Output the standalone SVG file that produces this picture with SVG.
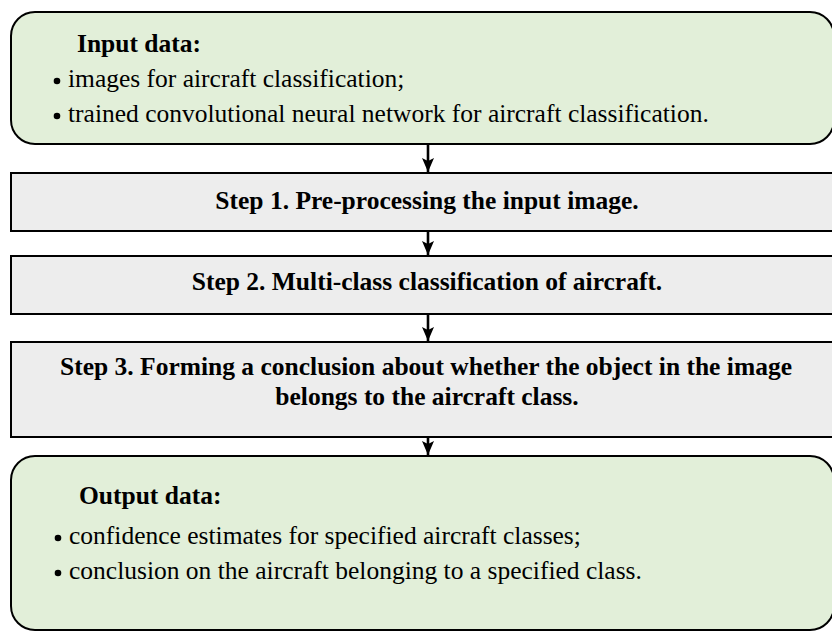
<svg xmlns="http://www.w3.org/2000/svg" width="832" height="631" viewBox="0 0 832 631">
  <style>
    .term { fill: #e2efd9; stroke: #000; stroke-width: 2; }
    .step { fill: #ededed; stroke: #000; stroke-width: 2; }
    .t { font-size: 25.5px; fill: #000; }
    .b { font-weight: bold; }
    .c { text-anchor: middle; }
    .link { stroke: #000; stroke-width: 2.6; fill: none; }
  </style>
  <defs>
    <marker id="arrow" markerWidth="14" markerHeight="12" refX="14" refY="6" orient="auto" markerUnits="userSpaceOnUse" viewBox="0 0 14 12">
      <path d="M0,0 L14,6 L0,12 L3,6 Z" fill="#000"/>
    </marker>
  </defs>

  <g id="input" font-family="'Liberation Serif', 'DejaVu Serif', serif">
    <rect class="term" x="11" y="12" width="823" height="132" rx="24" ry="24"/>
    <text class="t b" x="77" y="52">Input data:</text>
    <circle cx="57" cy="81" r="3.3"/>
    <text class="t" x="68" y="87">images for aircraft classification;</text>
    <circle cx="57" cy="116" r="3.3"/>
    <text class="t" x="68" y="122">trained convolutional neural network for aircraft classification.</text>
  </g>

  <g id="step1" font-family="'Liberation Serif', 'DejaVu Serif', serif">
    <rect class="step" x="11" y="173" width="823" height="58"/>
    <text class="t b c" x="427" y="209">Step 1. Pre-processing the input image.</text>
  </g>

  <g id="step2" font-family="'Liberation Serif', 'DejaVu Serif', serif">
    <rect class="step" x="11" y="256" width="823" height="58"/>
    <text class="t b c" x="427" y="290">Step 2. Multi-class classification of aircraft.</text>
  </g>

  <g id="step3" font-family="'Liberation Serif', 'DejaVu Serif', serif">
    <rect class="step" x="11" y="342" width="823" height="95"/>
    <text class="t b c" x="426" y="375">Step 3. Forming a conclusion about whether the object in the image</text>
    <text class="t b c" x="427" y="405">belongs to the aircraft class.</text>
  </g>

  <g id="output" font-family="'Liberation Serif', 'DejaVu Serif', serif">
    <rect class="term" x="11" y="456" width="823" height="174" rx="24" ry="24"/>
    <text class="t b" x="79" y="504">Output data:</text>
    <circle cx="58" cy="538" r="3.3"/>
    <text class="t" x="69" y="544">confidence estimates for specified aircraft classes;</text>
    <circle cx="58" cy="573" r="3.3"/>
    <text class="t" x="69" y="579">conclusion on the aircraft belonging to a specified class.</text>
  </g>

  <g id="connectors">
    <line class="link" x1="428" y1="145" x2="428" y2="172" marker-end="url(#arrow)"/>
    <line class="link" x1="428" y1="232" x2="428" y2="255" marker-end="url(#arrow)"/>
    <line class="link" x1="428" y1="315" x2="428" y2="341" marker-end="url(#arrow)"/>
    <line class="link" x1="428" y1="438" x2="428" y2="455" marker-end="url(#arrow)"/>
  </g>
</svg>
